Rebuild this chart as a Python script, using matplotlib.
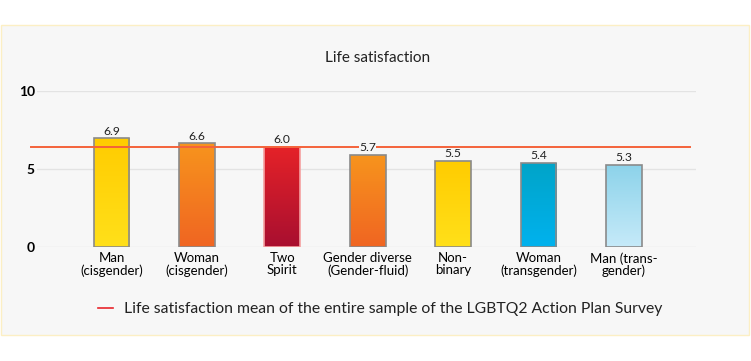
import matplotlib
matplotlib.use("Agg")
import matplotlib.pyplot as plt
import numpy as np
from matplotlib.patches import Rectangle
from matplotlib.colors import LinearSegmentedColormap

plt.rcParams['font.family'] = ['Lato', 'DejaVu Sans']

categories = ["Man\n(cisgender)", "Woman\n(cisgender)", "Two\nSpirit",
              "Gender diverse\n(Gender-fluid)", "Non-\nbinary",
              "Woman\n(transgender)", "Man (trans-\ngender)"]
bar_heights = [6.94, 6.62, 6.40, 5.88, 5.50, 5.39, 5.25]
value_labels = ["6.9", "6.6", "6.0", "5.7", "5.5", "5.4", "5.3"]
sample_mean = 6.38
y_ticks = [0, 5, 10]
title = "Life satisfaction"
legend_label = "Life satisfaction mean of the entire sample of the LGBTQ2 Action Plan Survey"

# gradient (top, bottom) colours and edge colour per bar
grad_top = ["#ffcc00", "#f7941d", "#e52228", "#f7941d", "#ffcc00", "#00a4c8", "#8dd3ea"]
grad_bot = ["#ffe01a", "#f06522", "#a80f30", "#f06522", "#ffe01a", "#00b2ee", "#c6eaf9"]
edge_cols = ["#8a8a8a", "#8a8a8a", "#f5a0a0", "#8a8a8a", "#8a8a8a", "#8a8a8a", "#8a8a8a"]

fig = plt.figure(figsize=(7.51, 3.61), dpi=100)
fig.patch.set_facecolor("white")

# outer panel as a background axes
bg = fig.add_axes([0, 0, 1, 1], zorder=-10)
bg.set_xlim(0, 751)
bg.set_ylim(361, 0)
bg.axis("off")
bg.add_patch(Rectangle((0.5, 25), 748.5, 310, facecolor="#f7f7f7",
                       edgecolor="#fcefc4", linewidth=1.0))

ax = fig.add_axes([37 / 751, (361 - 246.7) / 361, 659 / 751, 156 / 361], zorder=1)
ax.set_facecolor("none")

for s in ax.spines.values():
    s.set_visible(False)
ax.set_yticks(y_ticks)
ax.set_yticklabels([str(t) for t in y_ticks], fontsize=10, fontweight="bold")
ax.tick_params(axis="y", length=0, pad=1.5)
ax.yaxis.grid(True, color="#e3e3e3", linewidth=1)
ax.set_axisbelow(True)

x = np.arange(len(categories))
ax.set_xticks(x)
ax.set_xticklabels(categories, fontsize=9.5, linespacing=1.0)
ax.tick_params(axis="x", length=0, pad=4)

bars = ax.bar(x, bar_heights, width=0.42, facecolor="none",
              edgecolor=edge_cols, linewidth=1.2, zorder=3)
for i, b in enumerate(bars):
    cmap = LinearSegmentedColormap.from_list("g", [grad_bot[i], grad_top[i]])
    grad = np.linspace(0, 1, 256).reshape(-1, 1)
    x0, w, h = b.get_x(), b.get_width(), b.get_height()
    im = ax.imshow(grad, cmap=cmap, origin="lower", aspect="auto",
                   extent=[x0, x0 + w, 0, h], zorder=2)
    im.set_clip_path(b)
    ax.annotate(value_labels[i], (b.get_x() + w / 2, h), xytext=(0, 2.8),
                textcoords="offset points", ha="center", va="baseline",
                fontsize=8.7, color="#222222", zorder=5,
                bbox=dict(facecolor="#f7f7f7", edgecolor="none", pad=0.2))

ax.set_xlim(-0.872, 6.845)
ax.set_ylim(0, 10)

# sample mean line (slightly wider than the grid)
ax.plot([-0.943, 6.774], [sample_mean, sample_mean], color="#f4623a",
        linewidth=1.4, zorder=4, clip_on=False)

fig.text(378 / 751, 1 - 58 / 361, title, ha="center", va="center",
         fontsize=11, color="#222222")

# legend
fig.lines.append(plt.Line2D([98 / 751, 113 / 751], [1 - 308 / 361, 1 - 308 / 361],
                            transform=fig.transFigure, color="#e8262b", linewidth=1.2))
fig.text(124 / 751, 1 - 309 / 361, legend_label, ha="left", va="center",
         fontsize=11.3, color="#222222")

fig.savefig("out.png", dpi=100, facecolor="white")
